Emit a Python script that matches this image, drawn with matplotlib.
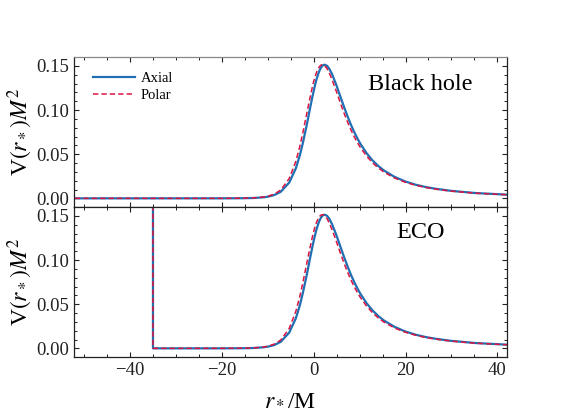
import numpy as np
import matplotlib.pyplot as plt
from matplotlib.ticker import MultipleLocator

# ---- data (tortoise coordinate r*/M, V M^2) ----
r_star = [-52.0, -20.0, -15.6, -13.2, -11.0, -9.98, -8.59, -7.19, -5.33, -3.89,
          -3.03, -2.41, -1.49, -0.82, -0.27, 0.19, 0.60, 0.97, 1.30, 1.61,
          1.90, 2.04, 2.39, 2.92, 3.37, 4.00, 4.95, 5.81, 6.62, 7.39,
          8.12, 8.83, 9.52, 10.20, 11.51, 12.77, 14.01, 15.22, 17.58, 19.89,
          22.16, 24.39, 26.61, 29.88, 35.28, 42.72]
v_axial = [0.0, 0.00001, 0.00011, 0.00037, 0.00112, 0.00187, 0.00371, 0.00735, 0.01784, 0.0339,
           0.04844, 0.0615, 0.0836, 0.1013, 0.1152, 0.1260, 0.1344, 0.1406, 0.1451, 0.1481,
           0.1501, 0.1507, 0.1513, 0.1500, 0.1469, 0.1406, 0.1280, 0.1152, 0.1033, 0.0926,
           0.0832, 0.0750, 0.0678, 0.0615, 0.0512, 0.0432, 0.0369, 0.0318, 0.0244, 0.0192,
           0.0155, 0.0128, 0.0108, 0.0085, 0.0060, 0.0040]
v_polar = [0.0, 0.00001, 0.00014, 0.00048, 0.00144, 0.00239, 0.00475, 0.00937, 0.02243, 0.04183,
           0.0586, 0.0731, 0.0965, 0.1135, 0.1266, 0.1359, 0.1424, 0.1467, 0.1494, 0.1509,
           0.1513, 0.1512, 0.1502, 0.1467, 0.1422, 0.1344, 0.1208, 0.1079, 0.0963, 0.0862,
           0.0774, 0.0697, 0.0631, 0.0573, 0.0479, 0.0405, 0.0347, 0.0300, 0.0231, 0.0183,
           0.0149, 0.0123, 0.0104, 0.0082, 0.0058, 0.0039]

eco_wall = -35.0      # position of the reflecting surface
wall_height = 0.2     # wall goes off the top of the panel

panel_labels = ["Black hole", "ECO"]

# ---- style ----
plt.rcParams["font.family"] = ["Liberation Serif", "DejaVu Serif"]
plt.rcParams["mathtext.fontset"] = "stix"

blue = "#1f6fb2"
red = "#dc1443"

r_star = np.array(r_star)
v_axial = np.array(v_axial)
v_polar = np.array(v_polar)

# ECO: potential only outside the wall, plus the wall itself
keep = r_star > eco_wall
eco_r = np.concatenate([[eco_wall, eco_wall], r_star[keep]])
eco_ax = np.concatenate([[wall_height, 0.0], v_axial[keep]])
eco_po = np.concatenate([[wall_height, 0.0], v_polar[keep]])

fig = plt.figure(figsize=(5.81, 4.15), dpi=100)
left, width = 74 / 581, 433 / 581
ax_top = fig.add_axes([left, 1 - 207 / 415, width, 150 / 415])
ax_bot = fig.add_axes([left, 1 - 357 / 415, width, 150 / 415], sharex=ax_top)

ax_top.plot(r_star, v_axial, color=blue, lw=1.6, label="Axial")
ax_top.plot(r_star, v_polar, color=red, lw=1.1, ls=(0, (3.5, 2)), label="Polar")

ax_bot.plot(eco_r, eco_ax, color=blue, lw=1.6)
ax_bot.plot(eco_r, eco_po, color=red, lw=1.1, ls=(0, (3.5, 2)))

for ax, lab in zip([ax_top, ax_bot], panel_labels):
    ax.set_xlim(-52.2, 42.1)
    ax.set_ylim(-0.0098, 0.16)
    ax.xaxis.set_major_locator(MultipleLocator(20))
    ax.xaxis.set_minor_locator(MultipleLocator(5))
    ax.yaxis.set_major_locator(MultipleLocator(0.05))
    ax.yaxis.set_minor_locator(MultipleLocator(0.01))
    ax.yaxis.set_major_formatter(plt.FormatStrFormatter("%.2f"))
    ax.tick_params(which="both", direction="in", top=True, right=True,
                   labelsize=13.5, colors="#222222")
    ax.tick_params(which="major", length=3.5, width=0.8)
    ax.tick_params(which="minor", length=2.2, width=0.7)
    ax.set_ylabel(r"V$(r_*)M^2$", fontsize=17, labelpad=1)
    for s in ax.spines.values():
        s.set_color("#222222")
        s.set_linewidth(0.9)
    ax.text(0.80, 0.82 if lab == "Black hole" else 0.83, lab, transform=ax.transAxes,
            fontsize=17.5, ha="center", va="center")

ax_top.spines["top"].set_color("#888888")
ax_top.tick_params(labelbottom=False)
ax_bot.set_xlabel(r"$r_*$/M", fontsize=17, labelpad=7)

ax_top.legend(loc="upper left", bbox_to_anchor=(0.02, 0.97), frameon=False,
              fontsize=10.5, handlelength=2.9, handletextpad=0.4,
              labelspacing=0.25, borderaxespad=0.3)

fig.savefig("out.png", dpi=100)
